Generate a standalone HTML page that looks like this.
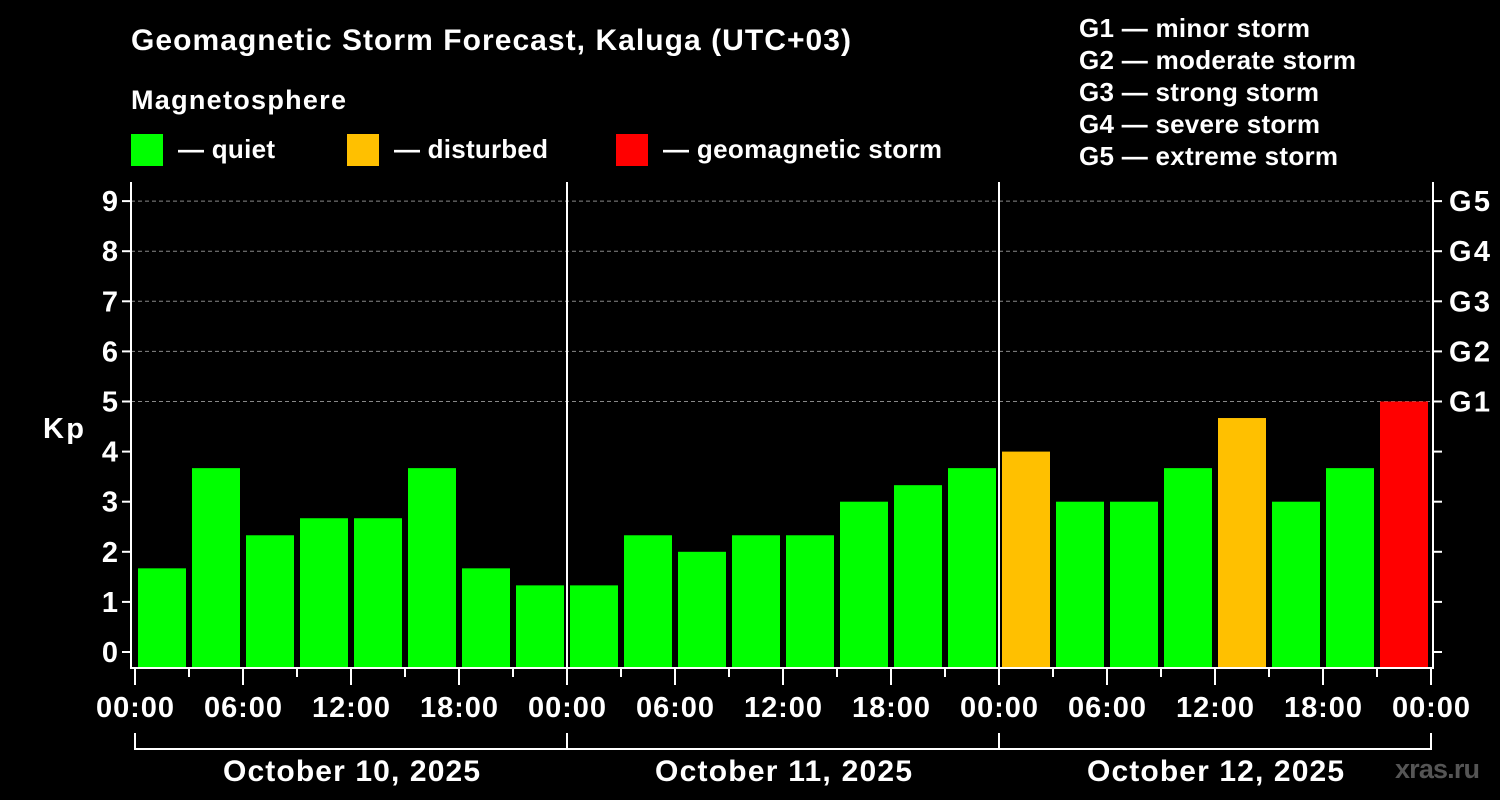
<!DOCTYPE html>
<html><head><meta charset="utf-8"><style>
body{margin:0;background:#000;}
svg{display:block;font-family:"Liberation Sans",Arial,sans-serif;font-weight:bold;}
</style></head><body>
<svg id="c" width="1500" height="800" viewBox="0 0 1500 800">
<rect width="1500" height="800" fill="#000"/>
<text x="131" y="50" fill="#fff" font-size="30" textLength="720" lengthAdjust="spacing">Geomagnetic Storm Forecast, Kaluga (UTC+03)</text>
<text x="131" y="109" fill="#fff" font-size="27" textLength="215" lengthAdjust="spacing">Magnetosphere</text>
<g><rect x="131" y="134" width="32" height="32" fill="#00ff00"/><text x="178" y="158" fill="#fff" font-size="26" textLength="97" lengthAdjust="spacing">— quiet</text></g>
<g><rect x="347" y="134" width="32" height="32" fill="#ffc000"/><text x="394" y="158" fill="#fff" font-size="26" textLength="154" lengthAdjust="spacing">— disturbed</text></g>
<g><rect x="616" y="134" width="32" height="32" fill="#ff0000"/><text x="663" y="158" fill="#fff" font-size="26" textLength="279" lengthAdjust="spacing">— geomagnetic storm</text></g>
<g fill="#fff" font-size="26">
<text x="1079" y="37" textLength="231" lengthAdjust="spacing">G1 — minor storm</text>
<text x="1079" y="69" textLength="277" lengthAdjust="spacing">G2 — moderate storm</text>
<text x="1079" y="101" textLength="240" lengthAdjust="spacing">G3 — strong storm</text>
<text x="1079" y="133" textLength="241" lengthAdjust="spacing">G4 — severe storm</text>
<text x="1079" y="165" textLength="259" lengthAdjust="spacing">G5 — extreme storm</text>
</g>
<text x="43" y="438" fill="#fff" font-size="29" textLength="41" lengthAdjust="spacing">Kp</text>
<text x="1395" y="778" fill="#555" font-size="27" textLength="85" lengthAdjust="spacing">xras.ru</text>
<g id="g"></g>
</svg>
<script>
const values=[1.67,3.67,2.33,2.67,2.67,3.67,1.67,1.33, 1.33,2.33,2.0,2.33,2.33,3.0,3.33,3.67, 4.0,3.0,3.0,3.67,4.67,3.0,3.67,5.0];
const yTicks=[0,1,2,3,4,5,6,7,8,9];
const gLabels=["G1","G2","G3","G4","G5"];
const xLabels=["00:00","06:00","12:00","18:00","00:00","06:00","12:00","18:00","00:00","06:00","12:00","18:00","00:00"];
const days=["October 10, 2025","October 11, 2025","October 12, 2025"];
const NS="http://www.w3.org/2000/svg",g=document.getElementById('g');
const X0=135,SLOT=54,Y0=652,UNIT=50.1,L=131,R=1433,T=182,B=668;
const y=v=>Y0-v*UNIT, x=i=>X0+i*SLOT;
function mk(t,a,txt){const e=document.createElementNS(NS,t);for(const k in a)e.setAttribute(k,a[k]);if(txt!==undefined)e.textContent=txt;g.appendChild(e);return e;}
for(const v of yTicks){
 if(v>=5){const gl=mk('line',{x1:L,x2:R,y1:y(v),y2:y(v),stroke:'#888','stroke-dasharray':'4,3','stroke-width':1});
 
 }
 const t=mk('line',{x1:L-9,x2:L,y1:y(v),y2:y(v),stroke:'#fff','stroke-width':2});
 
 
 const lb=mk('text',{x:L-13,y:y(v)+10,fill:'#fff','font-size':29,'text-anchor':'end'},String(v));
 
 
 const rt=mk('line',{x1:R,x2:R+9,y1:y(v),y2:y(v),stroke:'#fff','stroke-width':2});
 
 
 if(v>=5){const gt=mk('text',{x:R+16,y:y(v)+10,fill:'#fff','font-size':29,textLength:41,lengthAdjust:'spacing'},gLabels[v-5]);
 
 }
}
values.forEach((v,i)=>{
 const c=v>=5?'#ff0000':v>=4?'#ffc000':'#00ff00';
 const b=mk('rect',{x:x(i)+3,y:y(v),width:48,height:B-y(v),fill:c});
 
 
});
[1,2].forEach(d=>{const s=mk('line',{x1:x(d*8),x2:x(d*8),y1:T,y2:B,stroke:'#fff','stroke-width':2});
 
 });
const ax=mk('path',{d:`M${L} ${T}V${B}H${R}V${T}`,fill:'none',stroke:'#fff','stroke-width':2});


for(let i=0;i<=24;i++){
 const maj=i%2==0;
 const tk=mk('line',{x1:x(i),x2:x(i),y1:B,y2:maj?685:677,stroke:'#fff','stroke-width':2});
 
 
}
xLabels.forEach((s,i)=>{const t=mk('text',{x:x(i*2)-39,y:717,fill:'#fff','font-size':29,textLength:78,lengthAdjust:'spacing'},s);
 
 });
const br=mk('path',{d:`M${x(0)} 733V749H${x(24)}V733M${x(8)} 733V749M${x(16)} 733V749`,fill:'none',stroke:'#fff','stroke-width':2});


days.forEach((d,i)=>{const t=mk('text',{x:x(i*8+4)-128,y:781,fill:'#fff','font-size':30,textLength:257,lengthAdjust:'spacing'},d);
 
 });
</script>
</body></html>
